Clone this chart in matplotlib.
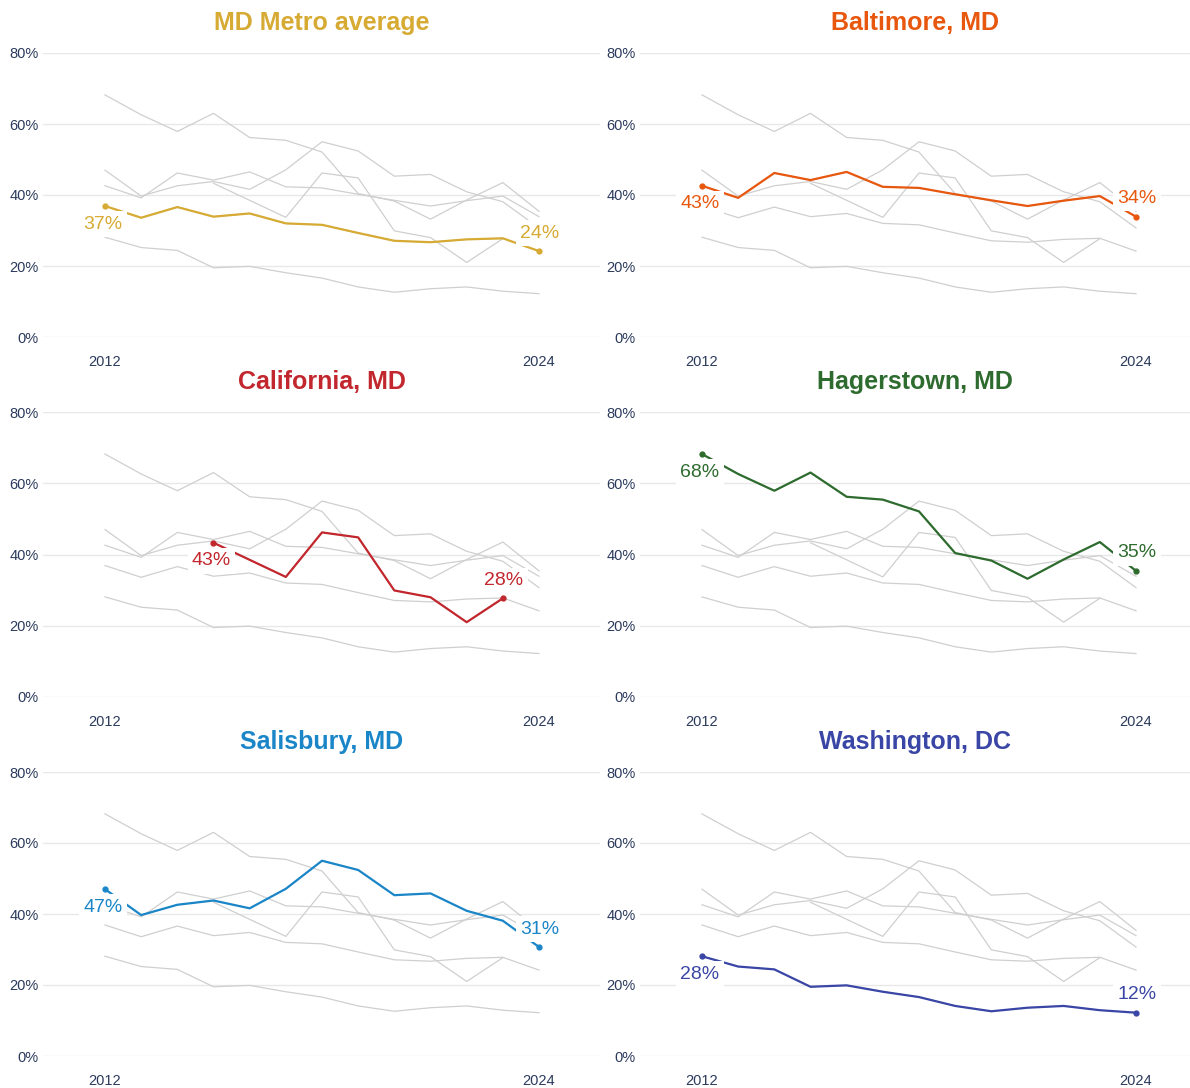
import matplotlib
matplotlib.use("Agg")
import matplotlib.pyplot as plt
import numpy as np

plt.rcParams['font.family'] = ['Liberation Sans', 'DejaVu Sans']

# ---------------- data ----------------
years = [2012, 2013, 2014, 2015, 2016, 2017, 2018, 2019, 2020, 2021, 2022, 2023, 2024]
california_years = [2015, 2017, 2018, 2019, 2020, 2021, 2022, 2023]

metro_avg = [36.9, 33.6, 36.6, 33.9, 34.8, 32.0, 31.6, 29.3, 27.1, 26.7, 27.5, 27.8, 24.2]
baltimore = [42.6, 39.2, 46.2, 44.2, 46.5, 42.3, 42.0, 40.2, 38.5, 36.9, 38.4, 39.7, 33.9]
california = [43.3, 33.7, 46.2, 44.8, 29.9, 28.0, 21.0, 27.7]
hagerstown = [68.2, 62.6, 57.9, 63.0, 56.2, 55.4, 52.1, 40.4, 38.3, 33.2, 38.6, 43.5, 35.4]
salisbury = [47.0, 39.7, 42.6, 43.8, 41.6, 47.1, 55.0, 52.4, 45.3, 45.8, 40.9, 38.1, 30.7]
washington = [28.1, 25.2, 24.4, 19.5, 19.9, 18.1, 16.6, 14.1, 12.6, 13.6, 14.1, 12.9, 12.2]

series_names = ["MD Metro average", "Baltimore, MD", "California, MD",
                "Hagerstown, MD", "Salisbury, MD", "Washington, DC"]
series_years = [years, years, california_years, years, years, years]
series_values = [metro_avg, baltimore, california, hagerstown, salisbury, washington]
series_colors = ["#D6AA33", "#E8570E", "#C1272D", "#2E6B2E", "#1A86C8", "#3A46A6"]

y_ticks = [0, 20, 40, 60, 80]
y_tick_labels = ["0%", "20%", "40%", "60%", "80%"]
x_ticks = [2012, 2024]
x_tick_labels = ["2012", "2024"]

# ---------------- layout ----------------
W, H = 1190, 1088
fig = plt.figure(figsize=(W / 100, H / 100), dpi=100)
fig.patch.set_facecolor("white")

col_x = [(43, 600), (640, 1190)]
col_xlim = [(2010.286, 2025.686), (2010.286, 2025.493)]
row_y = [(53, 337), (412, 697), (772, 1056)]

TICK_COLOR = "#2B3A5C"
GRAY = "#CFCFCF"
GRID = "#E8E8E8"

for i, name in enumerate(series_names):
    r, c = divmod(i, 2)
    x0, x1 = col_x[c]
    y0, y1 = row_y[r]
    ax = fig.add_axes([x0 / W, 1 - y1 / H, (x1 - x0) / W, (y1 - y0) / H])
    ax.set_facecolor("white")
    ax.set_xlim(*col_xlim[c])
    ax.set_ylim(0, 80)
    for s in ax.spines.values():
        s.set_visible(False)
    ax.set_yticks(y_ticks)
    ax.set_yticklabels(y_tick_labels)
    ax.set_xticks(x_ticks)
    ax.set_xticklabels(x_tick_labels)
    ax.tick_params(axis='both', length=0, labelsize=10.5, labelcolor=TICK_COLOR)
    ax.tick_params(axis='y', pad=3)
    ax.tick_params(axis='x', pad=13)
    ax.grid(axis='y', color=GRID, linewidth=1.0, zorder=0)
    ax.grid(axis='x', visible=False)
    ax.set_axisbelow(True)

    # gray context lines
    for yrs, vals in zip(series_years, series_values):
        ax.plot(yrs, vals, color=GRAY, linewidth=0.9, zorder=2, clip_on=False)

    # highlighted series
    yrs = series_years[i]
    vals = series_values[i]
    col = series_colors[i]
    ax.plot(yrs, vals, color=col, linewidth=1.6, zorder=3, clip_on=False)
    ax.plot([yrs[0], yrs[-1]], [vals[0], vals[-1]], 'o', color=col,
            markersize=3.5, zorder=6, clip_on=False)

    bbox = dict(boxstyle='square,pad=0.22', fc='white', ec='none')
    ax.annotate(f"{round(vals[0])}%", xy=(yrs[0], vals[0]), xytext=(-2, -18),
                textcoords='offset pixels', ha='center', va='center',
                fontsize=14, color=col, bbox=bbox, zorder=5)
    ax.annotate(f"{round(vals[-1])}%", xy=(yrs[-1], vals[-1]), xytext=(1, 18),
                textcoords='offset pixels', ha='center', va='center',
                fontsize=14, color=col, bbox=bbox, zorder=5)

    ax.annotate(name, xy=(0.5, 1), xycoords='axes fraction', xytext=(0, 23),
                textcoords='offset pixels', ha='center', va='baseline',
                fontsize=18, fontweight='bold', color=col)

fig.savefig("out.png", dpi=100, facecolor="white")
